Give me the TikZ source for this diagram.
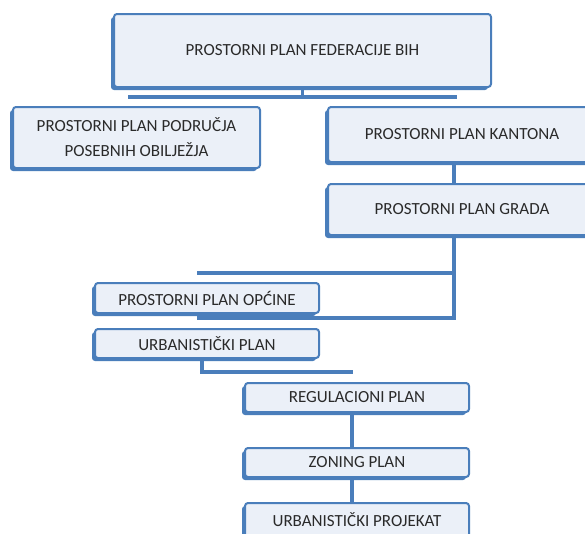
\documentclass[tikz,border=0pt]{standalone}
\usepackage{fontspec}
\setmainfont{Carlito}
\usetikzlibrary{shadows,calc,backgrounds}
\definecolor{bord}{HTML}{4A7EBB}
\definecolor{boxfill}{HTML}{EBF0F8}
\definecolor{txt}{HTML}{2A2A2A}
\tikzset{
  planbox/.style={rectangle, rounded corners=3pt, draw=bord, line width=2pt, fill=boxfill,
    general shadow={fill=bord, shadow xshift=-3pt, shadow yshift=-3pt},
    anchor=north west, inner sep=0pt, align=center, text=txt,
    font=\fontsize{17}{25}\selectfont},
  conn/.style={draw=bord, line width=3.6pt}
}
\begin{document}
\begin{tikzpicture}[x=1pt,y=-1pt]
\useasboundingbox (0,0) rectangle (585,533);
\clip (0,0) rectangle (585,533);
% coordinates for connectors
\coordinate (bl) at (128,97);
\coordinate (br) at (457,97);
\coordinate (k1) at (454,0);
\coordinate (b1) at (197,273);
\coordinate (b2) at (197,318);
\coordinate (u1) at (202,0);
\coordinate (u2) at (353,372);
\coordinate (r1) at (352,0);
% nodes
\node[planbox, minimum width=377pt, minimum height=73pt] (top) at (113,13) {PROSTORNI PLAN FEDERACIJE BIH};
\node[planbox, minimum width=247pt, minimum height=61pt] (pod) at (12,106) {PROSTORNI PLAN PODRUČJA\\POSEBNIH OBILJEŽJA};
\node[planbox, minimum width=268pt, minimum height=55pt] (kan) at (327,106) {PROSTORNI PLAN KANTONA};
\node[planbox, minimum width=268pt, minimum height=51pt] (gra) at (327,183) {PROSTORNI PLAN GRADA};
\node[planbox, minimum width=224pt, minimum height=30pt] (opc) at (94,282) {PROSTORNI PLAN OPĆINE};
\node[planbox, minimum width=224pt, minimum height=29pt] (urb) at (94,328) {URBANISTIČKI PLAN};
\node[planbox, minimum width=224pt, minimum height=29pt] (reg) at (244,382) {REGULACIONI PLAN};
\node[planbox, minimum width=224pt, minimum height=29pt] (zon) at (244,447) {ZONING PLAN};
\node[planbox, minimum width=224pt, minimum height=34pt] (pro) at (244,502) {URBANISTIČKI PROJEKAT};
% connectors (behind boxes)
\begin{scope}[on background layer]
\draw[conn] (top.south) -- (top.south |- bl);
\draw[conn] (bl) -- (br);
\draw[conn] (kan.south -| k1) -- (gra.north -| k1);
\draw[conn] (gra.south -| k1) |- (b2);
\draw[conn] (b1) -- (b1 -| k1);
\draw[conn] (urb.south -| u1) |- (u2);
\draw[conn] (reg.south -| r1) -- (zon.north -| r1);
\draw[conn] (zon.south -| r1) -- (pro.north -| r1);
\end{scope}
\end{tikzpicture}
\end{document}
